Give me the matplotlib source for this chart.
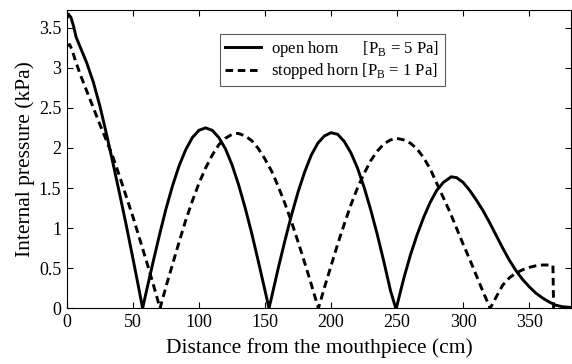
import matplotlib
matplotlib.use("Agg")
import matplotlib.pyplot as plt

# open horn, P_B = 5 Pa  (distance in cm, pressure in kPa)
open_x = [0, 1.5, 3, 5, 7, 10, 15, 20, 25, 30, 35, 40, 45, 50, 55, 57.3,
          60, 65, 70, 75, 80, 85, 90, 95, 100, 105, 110, 115, 120, 125, 130,
          135, 140, 145, 150, 153,
          155, 160, 165, 170, 175, 180, 185, 190, 195, 200, 205, 210, 215,
          220, 225, 230, 235, 240, 245, 249,
          250, 255, 260, 265, 270, 275, 280, 285, 291, 295, 300, 305, 310,
          315, 320, 325, 330, 335, 340, 345, 350, 355, 360, 365, 370, 375, 382]
open_p = [3.62, 3.66, 3.63, 3.52, 3.38, 3.26, 3.06, 2.82, 2.52, 2.17, 1.80,
          1.42, 1.03, 0.62, 0.20, 0.0,
          0.20, 0.56, 0.91, 1.24, 1.53, 1.78, 1.98, 2.13, 2.22, 2.25, 2.22,
          2.13, 1.99, 1.79, 1.54, 1.25, 0.93, 0.58, 0.22, 0.0,
          0.14, 0.50, 0.84, 1.16, 1.45, 1.70, 1.91, 2.06, 2.15, 2.19, 2.17,
          2.08, 1.94, 1.75, 1.51, 1.23, 0.92, 0.58, 0.22, 0.0,
          0.04, 0.37, 0.66, 0.91, 1.13, 1.32, 1.47, 1.57, 1.64, 1.63, 1.57,
          1.47, 1.35, 1.22, 1.07, 0.91, 0.75, 0.60, 0.47, 0.36, 0.27, 0.19,
          0.13, 0.08, 0.04, 0.02, 0.01]

# stopped horn, P_B = 1 Pa
stop_x = [0, 2, 4, 6, 10, 15, 20, 25, 30, 35, 40, 45, 50, 55, 60, 65, 70.5,
          75, 80, 85, 90, 95, 100, 105, 110, 115, 120, 125, 128.5, 130, 135,
          140, 145, 150, 155, 160, 165, 170, 175, 180, 185, 190.4,
          195, 200, 205, 210, 215, 220, 225, 230, 235, 240, 245, 249.7, 255,
          260, 265, 270, 275, 280, 285, 290, 295, 300, 305, 310, 315, 320.5,
          325, 330, 335, 340, 345, 350, 355, 360, 365, 368, 368.5]
stop_p = [3.27, 3.29, 3.22, 3.11, 2.92, 2.71, 2.50, 2.29, 2.09, 1.88, 1.64,
          1.39, 1.14, 0.87, 0.60, 0.32, 0.0,
          0.27, 0.55, 0.83, 1.10, 1.34, 1.56, 1.75, 1.91, 2.04, 2.12, 2.17,
          2.18, 2.18, 2.15, 2.09, 1.99, 1.86, 1.71, 1.52, 1.31, 1.08, 0.83,
          0.57, 0.30, 0.0,
          0.26, 0.53, 0.80, 1.05, 1.29, 1.50, 1.68, 1.84, 1.96, 2.05, 2.10,
          2.12, 2.10, 2.06, 1.99, 1.88, 1.74, 1.56, 1.38, 1.20, 1.00, 0.80,
          0.61, 0.41, 0.21, 0.0,
          0.14, 0.29, 0.38, 0.44, 0.48, 0.51, 0.53, 0.54, 0.54, 0.535, 0.0]

x_ticks = [0, 50, 100, 150, 200, 250, 300, 350]
y_ticks = [0, 0.5, 1, 1.5, 2, 2.5, 3, 3.5]
y_ticklabels = ["0", "0.5", "1", "1.5", "2", "2.5", "3", "3.5"]

plt.rcParams["font.family"] = ["Liberation Serif", "DejaVu Serif"]
plt.rcParams["mathtext.fontset"] = "custom"
plt.rcParams["mathtext.rm"] = "Liberation Serif"

fig = plt.figure(figsize=(5.72, 3.64), dpi=100)
ax = fig.add_axes([0.117, 0.153, 0.882, 0.8195])

ax.plot(open_x, open_p, color="black", lw=2.1, solid_joinstyle="miter",
        label=r"open horn      [P$_{\rm B}$ = 5 Pa]")
ax.plot(stop_x, stop_p, color="black", lw=2.1, dashes=(2.6, 1.6),
        label=r"stopped horn [P$_{\rm B}$ = 1 Pa]")

ax.set_xlim(0, 382)
ax.set_ylim(0, 3.72)
ax.set_xticks(x_ticks)
ax.set_yticks(y_ticks)
ax.set_yticklabels(y_ticklabels)
ax.tick_params(direction="in", top=True, right=True, length=4, width=0.8,
               labelsize=13, pad=4)
for s in ax.spines.values():
    s.set_linewidth(0.8)

ax.set_xlabel("Distance from the mouthpiece (cm)", fontsize=15.5, labelpad=5)
ax.set_ylabel("Internal pressure (kPa)", fontsize=15.5, labelpad=3)

leg = ax.legend(loc="upper left", bbox_to_anchor=(0.303, 0.92), fontsize=12,
                frameon=True, fancybox=False, edgecolor="#333333",
                handlelength=2.2, handletextpad=0.6, borderpad=0.3,
                labelspacing=0.15, borderaxespad=0)
leg.get_frame().set_linewidth(0.8)

fig.savefig("out.png", dpi=100)
